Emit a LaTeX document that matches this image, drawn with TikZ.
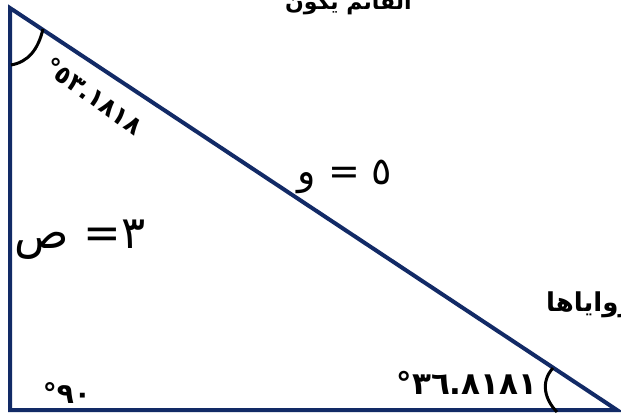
\documentclass[tikz,border=0pt]{standalone}
\usepackage{fontspec}
\newfontfamily\arabicfont[Script=Arabic]{DejaVu Sans}
\TeXXeTstate=1
\definecolor{triblue}{RGB}{18,42,102}
\tikzset{
  side/.style={draw=triblue, line width=4pt},
  anglearc/.style={draw=black, line width=3pt},
  lbl/.style={font=\arabicfont\bfseries, inner sep=0pt},
  plainlbl/.style={font=\arabicfont, inner sep=0pt},
}

\begin{document}
\begin{tikzpicture}[x=1pt,y=-1pt]
    \clip (0,0) rectangle (621,414);
    \fill[white] (0,0) rectangle (621,414);

    \coordinate (A) at (10,8);
    \coordinate (B) at (10,410);
    \coordinate (C) at (617,410);

    \draw[side] (A) -- (B) -- (C) -- cycle;

    % angle marks
    \draw[anglearc] (43,29) .. controls (38,50) and (28,62) .. (11,65);
    \draw[anglearc] (553,368) .. controls (540,382) and (545,400) .. (557,412);

    % texts
    \node[lbl, anchor=base east, font=\arabicfont\bfseries\fontsize{22}{24}\selectfont] (head) at (412,10) {\beginR القائم يكون\endR};
    \node[lbl, anchor=west, font=\arabicfont\bfseries\fontsize{26}{28}\selectfont] (angles) at (546,305) {\beginR زواياها\endR};

    \node[lbl, rotate=-36, font=\arabicfont\bfseries\fontsize{25}{27}\selectfont] (topangle) at (94,96) {٥٣.١٨١٨°};
    \node[lbl, font=\arabicfont\bfseries\fontsize{28}{30}\selectfont] (rightangle) at (67,393) {٩٠°};
    \node[lbl, font=\arabicfont\bfseries\fontsize{31}{33}\selectfont] (lowangle) at (467,383) {٣٦.٨١٨١°};

    \node[plainlbl, font=\arabicfont\fontsize{38}{40}\selectfont] (hyp) at (345,177) {\beginR ٥ = و\endR};
    \node[plainlbl, font=\arabicfont\fontsize{45}{47}\selectfont] (leg) at (80,240) {\beginR ٣= ص\endR};

\end{tikzpicture}
\end{document}
